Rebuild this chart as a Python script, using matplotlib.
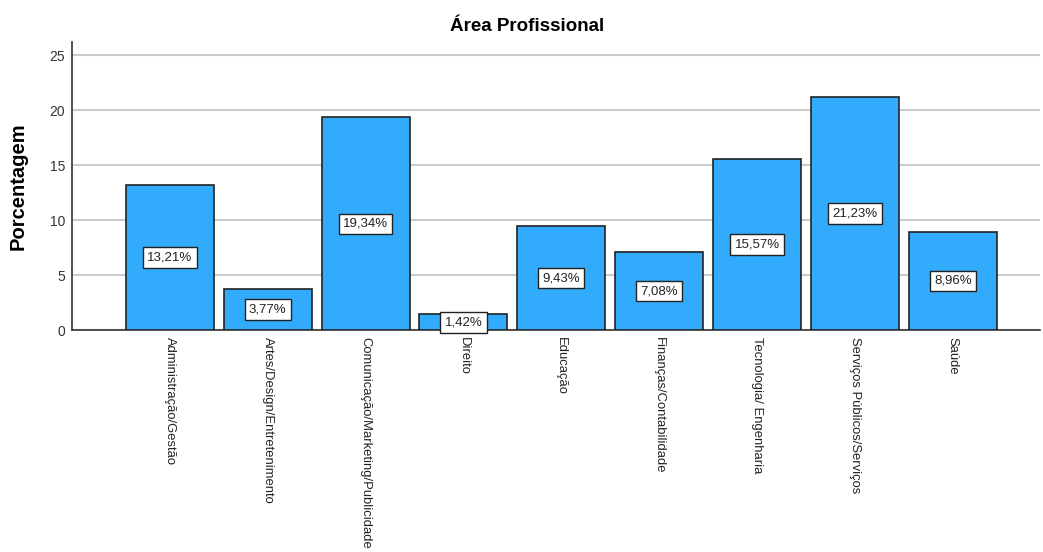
import matplotlib.pyplot as plt
import numpy as np

# Distribuição por área profissional (%)
areas = ['Administração/Gestão', 'Artes/Design/Entretenimento',
         'Comunicação/Marketing/Publicidade', 'Direito', 'Educação',
         'Finanças/Contabilidade', 'Tecnologia/ Engenharia',
         'Serviços Públicos/Serviços', 'Saúde']
percentuais = [13.21, 3.77, 19.34, 1.42, 9.43, 7.08, 15.57, 21.23, 8.96]
y_ticks = [0, 5, 10, 15, 20, 25]

plt.rcParams['font.family'] = ['Liberation Sans', 'DejaVu Sans']

fig = plt.figure(figsize=(10.43, 5.52), dpi=100)
ax = fig.add_axes([0.069, 0.402, 0.928, 0.522])

x = np.arange(len(areas))
ax.bar(x, percentuais, width=0.9, color='#33abfc', edgecolor='#222222',
       linewidth=1.2, zorder=3)

# rótulos com o valor no meio de cada barra
for xi, v in zip(x, percentuais):
    ax.text(xi, v / 2, f'{v:.2f}%'.replace('.', ','), ha='center', va='center',
            fontsize=9.5, color='#222222', zorder=4,
            bbox=dict(boxstyle='square,pad=0.32', facecolor='white',
                      edgecolor='#222222', linewidth=1))

ax.set_xlim(-1, len(areas) - 0.11)
ax.set_ylim(0, 26.2)
ax.set_yticks(y_ticks)
ax.set_yticklabels([str(t) for t in y_ticks], fontsize=10, color='#333333')
ax.set_xticks(x)
ax.set_xticklabels(areas, rotation=270, fontsize=9.4, color='#222222',
                   ha='center', va='top')
ax.tick_params(axis='both', length=0, pad=5)
ax.tick_params(axis='y', pad=5)

ax.grid(axis='y', color='#cccccc', linewidth=1.5, zorder=0)
ax.spines['top'].set_visible(False)
ax.spines['right'].set_visible(False)
ax.spines['left'].set_color('#333333')
ax.spines['bottom'].set_color('#333333')
ax.spines['left'].set_linewidth(1.2)
ax.spines['bottom'].set_linewidth(1.2)

ax.set_ylabel('Porcentagem', fontsize=14.5, fontweight='bold', labelpad=16)
fig.suptitle('Área Profissional', x=0.505, y=0.968, fontsize=13.5,
             fontweight='bold')

plt.savefig('out.png', dpi=100)
